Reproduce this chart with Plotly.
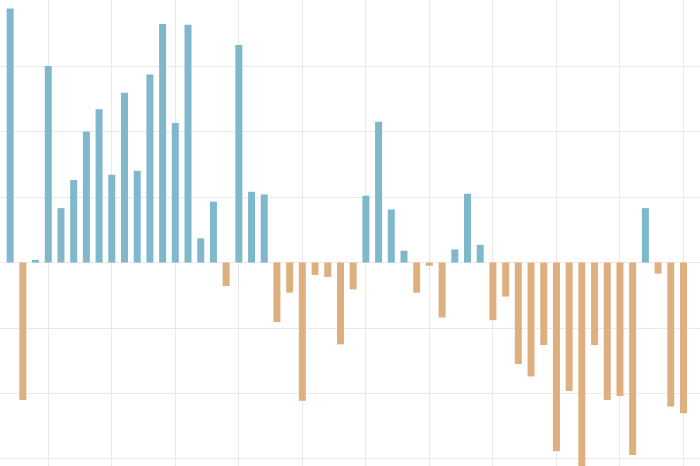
import plotly.graph_objects as go

years = list(range(1967, 2021))
values = [
    3.88, -2.10, 0.04, 3.00, 0.83, 1.26, 2.00, 2.34, 1.34, 2.59,
    1.40, 2.87, 3.64, 2.13, 3.63, 0.37, 0.93, -0.36, 3.32, 1.08,
    1.04, -0.91, -0.46, -2.11, -0.19, -0.22, -1.25, -0.41, 1.02, 2.15,
    0.81, 0.18, -0.46, -0.05, -0.84, 0.20, 1.05, 0.27, -0.88, -0.52,
    -1.55, -1.74, -1.26, -2.88, -1.96, -3.12, -1.26, -2.10, -2.04, -2.94,
    0.83, -0.17, -2.20, -2.30,
]

POS = "#7FB8CD"
NEG = "#DFB07F"
colors = [POS if v >= 0 else NEG for v in values]

fig = go.Figure(
    go.Bar(x=years, y=values, marker=dict(color=colors, line=dict(width=0)))
)
fig.update_layout(
    width=700,
    height=466,
    margin=dict(l=0, r=0, t=0, b=0),
    paper_bgcolor="white",
    plot_bgcolor="white",
    bargap=0.45,
    showlegend=False,
    xaxis=dict(
        range=[1966.2, 2021.3],
        tick0=1970,
        dtick=5,
        showgrid=True,
        gridcolor="#e9e9e9",
        gridwidth=1,
        showticklabels=False,
        zeroline=False,
        ticks="",
    ),
    yaxis=dict(
        range=[-3.107, 4.008],
        dtick=1,
        showgrid=True,
        gridcolor="#e9e9e9",
        gridwidth=1,
        zeroline=True,
        zerolinecolor="#e9e9e9",
        zerolinewidth=1,
        showticklabels=False,
        ticks="",
    ),
)
fig.write_html(
    "out.html",
    config={"displayModeBar": False},
    post_script="document.body.style.margin='0';document.body.style.overflow='hidden';",
)
